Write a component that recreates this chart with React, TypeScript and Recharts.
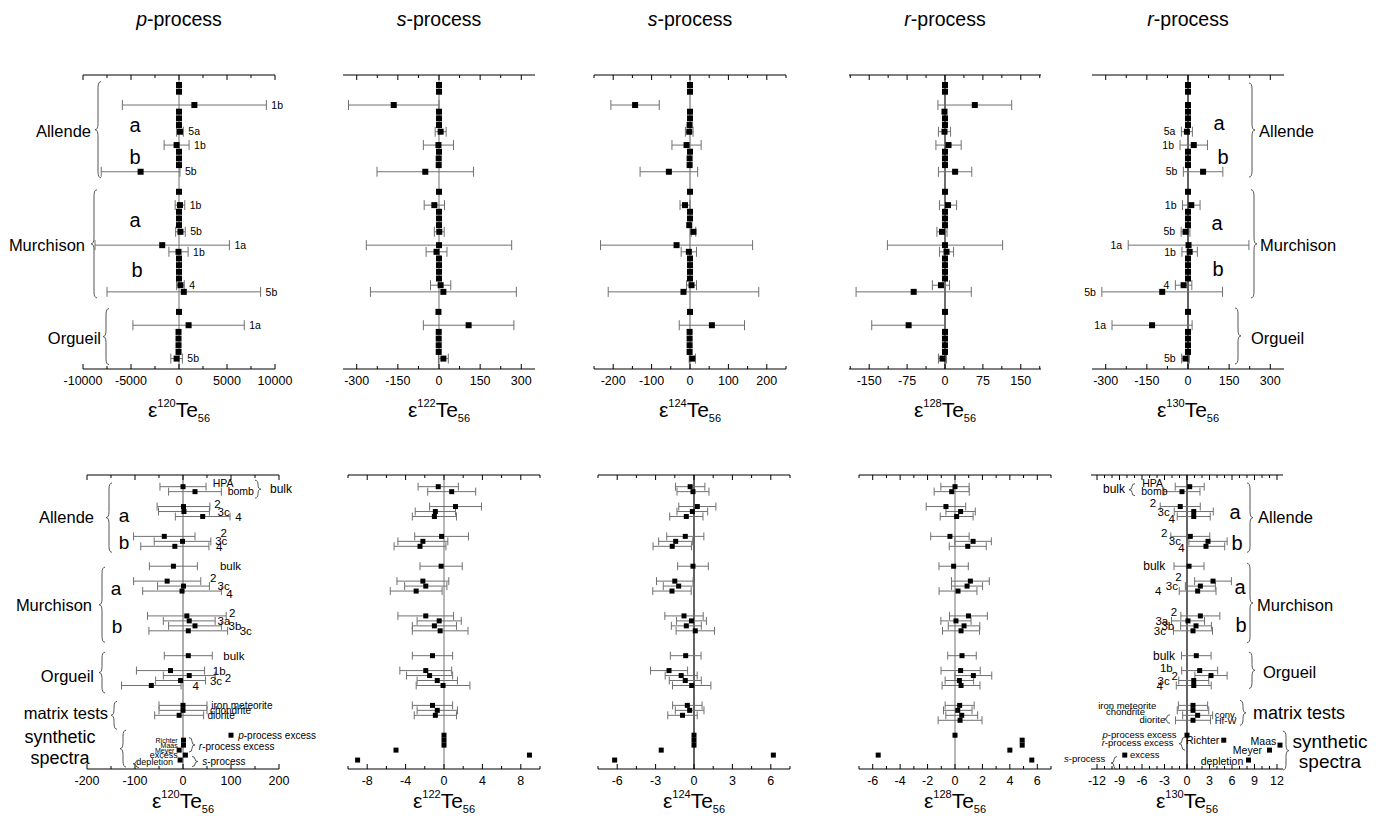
import React from 'react'
import { ScatterChart, Scatter, XAxis, YAxis, ErrorBar, ReferenceLine } from 'recharts'

const FONT = "Arial, 'Liberation Sans', Helvetica, sans-serif"

// row slots, counted from the top of each panel
const topRows = [0, 1, 3, 4, 5, 6, 7, 9, 10, 11, 12, 13, 16, 18, 19, 20, 21, 22, 24, 25, 26, 27, 28, 29, 30, 31, 34, 36, 37, 38, 39, 40, 41]
const bottomRows = [0, 1, 4, 5, 6, 10, 11, 12, 16, 19, 20, 21, 26, 27, 28, 29, 34, 37, 38, 39, 40, 44, 45, 46, 50, 51, 52, 53, 54, 55]
const bottomRowsHfW = [0, 1, 4, 5, 6, 10, 11, 12, 16, 19, 20, 21, 26, 27, 28, 29, 34, 37, 38, 39, 40, 44, 45, 46, 47, 50, 51, 52, 53, 54, 55]

// top row: leachate steps
const topTags = ['', '', '1b', '', '', '', '5a', '1b', '', '', '', '5b', '', '1b', '', '', '', '5b', '1a', '1b', '', '', '', '', '4', '5b', '', '1a', '', '', '', '', '5b']
const te120Top = [0, 0, 1600, 0, 0, 0, 100, -250, 0, 0, 0, -4000, 0, 100, 0, 0, 0, 150, -1750, -50, 0, 0, 0, 0, 150, 500, 0, 1000, -50, -50, -50, -50, -250]
const te120TopErr = [0, 0, 7500, 0, 0, 0, 350, 1300, 0, 0, 0, 4100, 0, 500, 0, 0, 0, 500, 7000, 1000, 0, 0, 0, 0, 400, 8000, 0, 5800, 0, 0, 0, 0, 600]
const te122Top = [0, 0, -165, 0, 0, 0, 6, -2, 0, -1, -1, -50, 0, -17, 0, 0, 0, 1, 0, -9, 0, 0, 0, 0, 6, 16, -2, 108, -1, -1, -1, -1, 16]
const te122TopErr = [0, 0, 165, 0, 0, 0, 20, 55, 0, 0, 0, 176, 0, 37, 0, 0, 0, 18, 265, 38, 0, 0, 0, 0, 37, 266, 0, 165, 0, 0, 0, 0, 18]
const te124Top = [0, 0, -143, 0, 0, -1, -2, -9, 0, -1, -1, -55, 0, -13, 0, 0, -2, 9, -35, -3, 0, 0, 0, 0, 4, -17, 0, 57, -1, -1, -1, -1, 6]
const te124TopErr = [0, 0, 63, 0, 0, 0, 10, 38, 0, 0, 0, 75, 0, 13, 0, 0, 0, 6, 198, 20, 0, 0, 0, 0, 13, 196, 0, 85, 0, 0, 0, 0, 8]
const te128Top = [0, 0, 59, -1, 0, 0, -1, 7, 0, 0, 0, 20, 0, 6, 0, 0, 0, -6, 0, 3, 0, 0, 0, 0, -8, -62, 0, -72, 0, 0, 0, 0, -5]
const te128TopErr = [0, 0, 73, 0, 0, 0, 12, 25, 0, 0, 0, 33, 0, 17, 0, 0, 0, 10, 114, 14, 0, 0, 0, 0, 17, 114, 0, 73, 0, 0, 0, 0, 8]
const te130Top = [0, 0, 0, 0, 0, 0, -4, 21, 0, 0, 0, 55, 0, 12, 0, 0, 0, -9, 2, 6, 0, 0, 0, 0, -16, -94, 0, -131, 0, 0, 0, 0, -9]
const te130TopErr = [0, 0, 0, 0, 0, 0, 20, 50, 0, 0, 0, 72, 0, 32, 0, 0, 0, 16, 220, 28, 0, 0, 0, 0, 30, 220, 0, 146, 0, 0, 0, 0, 14]

// bottom row: bulk, residues, matrix tests, synthetic spectra
const te120Bot = [0, 25, 1, 2, 41, -39, -1, -17, -20, -33, 1, -2, 8, 13, 25, 11, 11, -26, 13, -5, -66, 0, 0, -8, 100, 1, 1, -8, 5, -6]
const te120BotErr = [48, 55, 55, 53, 57, 64, 59, 71, 50, 70, 54, 82, 82, 54, 55, 82, 50, 71, 54, 52, 62, 50, 50, 51, 0, 0, 0, 0, 0, 0]
const te122Bot = [-0.6, 0.8, 1.2, -0.9, -1.0, -0.25, -2.2, -2.5, -0.3, -2.2, -1.9, -2.9, -1.9, -0.5, -1.0, -0.4, -1.2, -1.9, -1.5, -0.7, -0.1, -1.2, -0.7, -0.9, 0, 0, 0, -5.0, 8.9, -9.0]
const te122BotErr = [2.1, 2.5, 2.7, 2.1, 2.3, 2.8, 2.6, 2.7, 2.2, 2.7, 2.2, 2.7, 2.9, 2.3, 2.3, 2.9, 2.1, 2.7, 2.4, 2.1, 2.8, 2.1, 2.1, 2.2, 0, 0, 0, 0, 0, 0]
const te124Bot = [-0.3, -0.08, 0.26, -0.13, -0.6, -0.68, -1.43, -1.7, -0.08, -1.5, -1.2, -1.72, -0.78, -0.2, -0.6, 0.1, -0.65, -1.95, -1.0, -0.68, -0.18, -0.52, -0.34, -0.9, 0, 0, 0, -2.56, 6.2, -6.2]
const te124BotErr = [1.15, 1.25, 1.45, 1.2, 1.3, 1.45, 1.33, 1.5, 1.2, 1.43, 1.2, 1.5, 1.5, 1.17, 1.17, 1.5, 1.2, 1.45, 1.25, 1.25, 1.5, 1.15, 1.12, 1.15, 0, 0, 0, 0, 0, 0]
const te128Bot = [0, -0.24, -0.66, 0.41, 0.12, -0.37, 1.32, 0.93, -0.1, 1.12, 0.88, 0.22, 0.98, 0.07, 0.66, 0.44, 0.51, 0.41, 1.34, 0.32, 0.44, 0.34, 0.2, 0.49, 0.37, 0, 4.9, 4.9, 4.0, -5.6, 5.6]
const te128BotErr = [1.03, 1.28, 1.44, 1.07, 1.2, 1.4, 1.33, 1.35, 1.07, 1.38, 1.13, 1.38, 1.38, 1.1, 1.15, 1.35, 1.04, 1.43, 1.34, 1.04, 1.38, 1.06, 1.04, 1.16, 1.6, 0, 0, 0, 0, 0, 0]
const te130Bot = [0.36, -0.67, -0.9, 0.9, 0.9, 0.44, 2.8, 2.53, 0.27, 3.47, 1.78, 1.42, 1.78, 0.13, 1.2, 0.8, 1.24, 1.69, 3.2, 0.9, 0.9, 0.8, 0.8, 1.42, 0.8, 0, 4.9, 12.4, 11.0, -8.3, 8.2]
const te130BotErr = [1.93, 2.4, 2.67, 2.6, 2.2, 2.6, 2.55, 2.5, 2.0, 2.45, 2.0, 2.45, 2.6, 2.2, 2.05, 2.6, 1.97, 2.4, 2.15, 2.0, 2.33, 1.95, 2.1, 2.0, 2.33, 0, 0, 0, 0, 0, 0]

// axis ticks (all ticks / labelled ticks)
const ticks120Top = [-10000, -7500, -5000, -2500, 0, 2500, 5000, 7500, 10000]
const labels120Top = [-10000, -5000, 0, 5000, 10000]
const ticks300 = [-300, -225, -150, -75, 0, 75, 150, 225, 300]
const labels300 = [-300, -150, 0, 150, 300]
const ticks124Top = [-250, -200, -150, -100, -50, 0, 50, 100, 150, 200, 250]
const labels124Top = [-200, -100, 0, 100, 200]
const ticks128Top = [-187.5, -150, -112.5, -75, -37.5, 0, 37.5, 75, 112.5, 150, 187.5]
const labels128Top = [-150, -75, 0, 75, 150]
const ticks120Bot = [-200, -150, -100, -50, 0, 50, 100, 150, 200]
const labels120Bot = [-200, -100, 0, 100, 200]
const ticks122Bot = [-10, -8, -6, -4, -2, 0, 2, 4, 6, 8, 10]
const labels122Bot = [-8, -4, 0, 4, 8]
const ticks124Bot = [-7.5, -6, -4.5, -3, -1.5, 0, 1.5, 3, 4.5, 6, 7.5]
const labels124Bot = [-6, -3, 0, 3, 6]
const ticks128Bot = [-7, -6, -5, -4, -3, -2, -1, 0, 1, 2, 3, 4, 5, 6, 7]
const labels128Bot = [-6, -4, -2, 0, 2, 4, 6]
const ticks130Bot = [-12, -11, -10, -9, -8, -7, -6, -5, -4, -3, -2, -1, 0, 1, 2, 3, 4, 5, 6, 7, 8, 9, 10, 11, 12]
const labels130Bot = [-12, -9, -6, -3, 0, 3, 6, 9, 12]

const titles = ['p-process', 's-process', 's-process', 'r-process', 'r-process']
const masses = ['120', '122', '124', '128', '130']

type Note = { y: number; x: number; text: string; anchor?: 'start' | 'end' | 'middle'; dx?: number; dy?: number; size?: number }

const notes120Bot: Note[] = [
  { y: 0, x: 62, text: 'HPA', dy: -3, size: 10.5 },
  { y: 1, x: 93, text: 'bomb', size: 10.5 },
  { y: 4, x: 65, text: '2', dy: -3 },
  { y: 5, x: 72, text: '3c' },
  { y: 6, x: 109, text: '4' },
  { y: 10, x: 78, text: '2', dy: -3 },
  { y: 11, x: 67, text: '3c' },
  { y: 12, x: 69, text: '4', dy: 1 },
  { y: 16, x: 77, text: 'bulk' },
  { y: 19, x: 56, text: '2', dy: -3 },
  { y: 20, x: 72, text: '3c' },
  { y: 21, x: 90, text: '4', dy: 3 },
  { y: 26, x: 96, text: '2', dy: -3 },
  { y: 27, x: 72, text: '3a' },
  { y: 28, x: 95, text: '3b' },
  { y: 29, x: 118, text: '3c' },
  { y: 34, x: 84, text: 'bulk' },
  { y: 37, x: 62, text: '1b' },
  { y: 38, x: 87, text: '2', dy: 2 },
  { y: 39, x: 56, text: '3c' },
  { y: 40, x: 20, text: '4' },
  { y: 44, x: 59, text: 'iron meteorite', size: 10 },
  { y: 45, x: 56, text: 'chondrite', size: 10 },
  { y: 46, x: 51, text: 'diorite', size: 10 },
  { y: 50, x: 115, text: 'p-process excess', size: 10 },
  { y: 51, x: -11, text: 'Richter', anchor: 'end', size: 7 },
  { y: 52, x: -11, text: 'Maas', anchor: 'end', size: 7 },
  { y: 53, x: -18, text: 'Meyer', anchor: 'end', size: 7 },
  { y: 54, x: -11, text: 'excess', anchor: 'end', size: 9 },
  { y: 55.3, x: -21, text: 'depletion', anchor: 'end', size: 9 },
  { y: 52.3, x: 33, text: 'r-process excess', size: 10 },
  { y: 55.2, x: 40, text: 's-process', size: 10 },
]

const notes130Bot: Note[] = [
  { y: 0, x: -3.2, text: 'HPA', anchor: 'end', dy: -3, size: 10.5 },
  { y: 1, x: -2.6, text: 'bomb', anchor: 'end', size: 10.5 },
  { y: 4, x: -4.1, text: '2', anchor: 'end', dy: -4 },
  { y: 5, x: -2.3, text: '3c', anchor: 'end' },
  { y: 6, x: -1.6, text: '4', anchor: 'end', dy: 2 },
  { y: 10, x: -2.6, text: '2', anchor: 'end', dy: -3 },
  { y: 11, x: -0.8, text: '3c', anchor: 'end' },
  { y: 12, x: -0.3, text: '4', anchor: 'end', dy: 2 },
  { y: 16, x: -2.9, text: 'bulk', anchor: 'end', size: 12 },
  { y: 19, x: -0.7, text: '2', anchor: 'end', dy: -4 },
  { y: 20, x: -1.2, text: '3c', anchor: 'end' },
  { y: 21, x: -3.4, text: '4', anchor: 'end' },
  { y: 26, x: -1.3, text: '2', anchor: 'end', dy: -4 },
  { y: 27, x: -2.5, text: '3a', anchor: 'end' },
  { y: 28, x: -1.7, text: '3b', anchor: 'end' },
  { y: 29, x: -2.8, text: '3c', anchor: 'end' },
  { y: 34, x: -1.6, text: 'bulk', anchor: 'end', size: 12 },
  { y: 37, x: -1.9, text: '1b', anchor: 'end', dy: -3 },
  { y: 38, x: -1.2, text: '2', anchor: 'end' },
  { y: 39, x: -2.3, text: '3c', anchor: 'end' },
  { y: 40, x: -3.2, text: '4', anchor: 'end' },
  { y: 44, x: -4.1, text: 'iron meteorite', anchor: 'end', size: 9.5 },
  { y: 45.2, x: -5.6, text: 'chondrite', anchor: 'end', size: 9.5 },
  { y: 46.9, x: -2.9, text: 'diorite', anchor: 'end', size: 9.5 },
  { y: 45.8, x: 3.7, text: 'conv.', size: 9.5 },
  { y: 47.1, x: 3.7, text: 'Hf-W', size: 9.5 },
  { y: 49.8, x: -1.4, text: 'p-process excess', anchor: 'end', size: 9.5 },
  { y: 51.6, x: -1.8, text: 'r-process excess', anchor: 'end', size: 9.5 },
  { y: 51, x: 4.3, text: 'Richter', anchor: 'end', size: 10.5 },
  { y: 52, x: 11.9, text: 'Maas', anchor: 'end', dy: -4, size: 10.5 },
  { y: 53, x: 10.0, text: 'Meyer', anchor: 'end', size: 10.5 },
  { y: 54, x: -7.6, text: 'excess', size: 9.5 },
  { y: 54.8, x: -10.9, text: 's-process', anchor: 'end', size: 9.5 },
  { y: 55.2, x: 7.5, text: 'depletion', anchor: 'end', size: 10.5 },
]

type Geom = { top: number; h: number; dom: [number, number] }
const TOP: Geom = { top: 75, h: 294, dom: [-1.5, 42.56] }
const BOT: Geom = { top: 475, h: 294, dom: [-2.35, 56.8] }
const PW = 192
const topLefts = [83, 343, 594, 849, 1092]
const botLefts = [87, 348, 598, 859, 1091]

const rowY = (g: Geom, r: number) => g.top + ((r - g.dom[0]) / (g.dom[1] - g.dom[0])) * g.h

type Pt = { x: number; y: number; err: number }
const pts = (rows: number[], vals: number[], errs: number[]): Pt[] =>
  rows.map((r, i) => ({ y: r, x: vals[i], err: errs[i] }))

const tagNotes = (vals: number[], errs: number[], side: 'right' | 'left'): Note[] =>
  topRows
    .map((r, i) =>
      side === 'right'
        ? { y: r, x: vals[i] + errs[i], text: errs[i] > 0 ? topTags[i] : '', dx: 5, size: 10.5 }
        : { y: r, x: vals[i] - errs[i], text: errs[i] > 0 ? topTags[i] : '', dx: -6, anchor: 'end' as const, size: 10.5 })
    .filter((n) => n.text)

type PanelSpec = {
  left: number; geom: Geom; domain: [number, number]; ticks: number[]; labels: number[]
  data: Pt[]; notes: Note[]; zero: string; sq: number; cap: number
}

const topPanels: PanelSpec[] = [
  { left: topLefts[0], geom: TOP, domain: [-10000, 10000], ticks: ticks120Top, labels: labels120Top, data: pts(topRows, te120Top, te120TopErr), notes: tagNotes(te120Top, te120TopErr, 'right'), zero: '#9a9a9a', sq: 6, cap: 5 },
  { left: topLefts[1], geom: TOP, domain: [-350, 350], ticks: ticks300, labels: labels300, data: pts(topRows, te122Top, te122TopErr), notes: [], zero: '#9a9a9a', sq: 6, cap: 5 },
  { left: topLefts[2], geom: TOP, domain: [-250, 250], ticks: ticks124Top, labels: labels124Top, data: pts(topRows, te124Top, te124TopErr), notes: [], zero: '#8a8a8a', sq: 6, cap: 5 },
  { left: topLefts[3], geom: TOP, domain: [-190, 190], ticks: ticks128Top, labels: labels128Top, data: pts(topRows, te128Top, te128TopErr), notes: [], zero: '#333', sq: 6, cap: 5 },
  { left: topLefts[4], geom: TOP, domain: [-350, 350], ticks: ticks300, labels: labels300, data: pts(topRows, te130Top, te130TopErr), notes: tagNotes(te130Top, te130TopErr, 'left'), zero: '#222', sq: 6, cap: 5 },
]

const botPanels: PanelSpec[] = [
  { left: botLefts[0], geom: BOT, domain: [-200, 200], ticks: ticks120Bot, labels: labels120Bot, data: pts(bottomRows, te120Bot, te120BotErr), notes: notes120Bot, zero: '#8a8a8a', sq: 5, cap: 4 },
  { left: botLefts[1], geom: BOT, domain: [-10, 10], ticks: ticks122Bot, labels: labels122Bot, data: pts(bottomRows, te122Bot, te122BotErr), notes: [], zero: '#9a9a9a', sq: 5, cap: 4 },
  { left: botLefts[2], geom: BOT, domain: [-7.5, 7.5], ticks: ticks124Bot, labels: labels124Bot, data: pts(bottomRows, te124Bot, te124BotErr), notes: [], zero: '#222', sq: 5, cap: 4 },
  { left: botLefts[3], geom: BOT, domain: [-7, 7], ticks: ticks128Bot, labels: labels128Bot, data: pts(bottomRowsHfW, te128Bot, te128BotErr), notes: [], zero: '#9a9a9a', sq: 5, cap: 4 },
  { left: botLefts[4], geom: BOT, domain: [-12.8, 12.8], ticks: ticks130Bot, labels: labels130Bot, data: pts(bottomRowsHfW, te130Bot, te130BotErr), notes: notes130Bot, zero: '#222', sq: 5, cap: 4 },
]

// braces and group names around the panels (pixel x, row y)
type Brace = { g: Geom; x: number; r1: number; r2: number; dir: 1 | -1 }
const braces: Brace[] = [
  { g: TOP, x: 98, r1: -0.5, r2: 13.9, dir: -1 },
  { g: TOP, x: 94, r1: 15.7, r2: 31.9, dir: -1 },
  { g: TOP, x: 106, r1: 33.5, r2: 41.9, dir: -1 },
  { g: TOP, x: 1252, r1: -0.3, r2: 13.8, dir: 1 },
  { g: TOP, x: 1254, r1: 15.7, r2: 31.9, dir: 1 },
  { g: TOP, x: 1238, r1: 33.4, r2: 41.8, dir: 1 },
  { g: BOT, x: 109, r1: -0.75, r2: 13.2, dir: -1 },
  { g: BOT, x: 102, r1: 16.2, r2: 31.3, dir: -1 },
  { g: BOT, x: 102, r1: 33.3, r2: 41.5, dir: -1 },
  { g: BOT, x: 114, r1: 43.2, r2: 48.8, dir: -1 },
  { g: BOT, x: 123, r1: 49, r2: 56.4, dir: -1 },
  { g: BOT, x: 258, r1: -1.3, r2: 2.3, dir: 1 },
  { g: BOT, x: 192, r1: 50.5, r2: 53.4, dir: 1 },
  { g: BOT, x: 195, r1: 54.3, r2: 56.3, dir: 1 },
  { g: BOT, x: 136, r1: 55, r2: 56.5, dir: -1 },
  { g: BOT, x: 1132, r1: -0.6, r2: 1.8, dir: -1 },
  { g: BOT, x: 1250, r1: -0.75, r2: 13.2, dir: 1 },
  { g: BOT, x: 1250, r1: 15.4, r2: 31.4, dir: 1 },
  { g: BOT, x: 1252, r1: 33.3, r2: 40.6, dir: 1 },
  { g: BOT, x: 1243, r1: 43, r2: 48, dir: 1 },
  { g: BOT, x: 1286, r1: 49.2, r2: 57, dir: 1 },
  { g: BOT, x: 1167, r1: 45.9, r2: 47.6, dir: -1 },
  { g: BOT, x: 1182, r1: 50.4, r2: 53, dir: -1 },
  { g: BOT, x: 1114, r1: 54.3, r2: 56.9, dir: -1 },
]

type Tag = { g: Geom; x: number; r: number; text: string; anchor: 'start' | 'end' | 'middle'; size: number }
const groupTags: Tag[] = [
  { g: TOP, x: 91, r: 6.9, text: 'Allende', anchor: 'end', size: 16.5 },
  { g: TOP, x: 85, r: 24, text: 'Murchison', anchor: 'end', size: 16.5 },
  { g: TOP, x: 101, r: 37.9, text: 'Orgueil', anchor: 'end', size: 16.5 },
  { g: TOP, x: 135, r: 6.0, text: 'a', anchor: 'middle', size: 20 },
  { g: TOP, x: 135, r: 10.8, text: 'b', anchor: 'middle', size: 20 },
  { g: TOP, x: 135, r: 20.2, text: 'a', anchor: 'middle', size: 20 },
  { g: TOP, x: 137, r: 27.7, text: 'b', anchor: 'middle', size: 20 },
  { g: TOP, x: 1219, r: 5.7, text: 'a', anchor: 'middle', size: 20 },
  { g: TOP, x: 1223, r: 10.8, text: 'b', anchor: 'middle', size: 20 },
  { g: TOP, x: 1217, r: 20.7, text: 'a', anchor: 'middle', size: 20 },
  { g: TOP, x: 1218, r: 27.5, text: 'b', anchor: 'middle', size: 20 },
  { g: TOP, x: 1259, r: 6.9, text: 'Allende', anchor: 'start', size: 16.5 },
  { g: TOP, x: 1260, r: 24, text: 'Murchison', anchor: 'start', size: 16.5 },
  { g: TOP, x: 1251, r: 37.9, text: 'Orgueil', anchor: 'start', size: 16.5 },
  { g: BOT, x: 94, r: 6.1, text: 'Allende', anchor: 'end', size: 16.5 },
  { g: BOT, x: 92, r: 23.8, text: 'Murchison', anchor: 'end', size: 16.5 },
  { g: BOT, x: 94, r: 38.2, text: 'Orgueil', anchor: 'end', size: 16.5 },
  { g: BOT, x: 108, r: 45.5, text: 'matrix tests', anchor: 'end', size: 16.5 },
  { g: BOT, x: 60, r: 50.4, text: 'synthetic', anchor: 'middle', size: 18 },
  { g: BOT, x: 60, r: 54.6, text: 'spectra', anchor: 'middle', size: 18 },
  { g: BOT, x: 124, r: 5.7, text: 'a', anchor: 'middle', size: 19 },
  { g: BOT, x: 124, r: 11.3, text: 'b', anchor: 'middle', size: 19 },
  { g: BOT, x: 116, r: 20.4, text: 'a', anchor: 'middle', size: 19 },
  { g: BOT, x: 117, r: 28.2, text: 'b', anchor: 'middle', size: 19 },
  { g: BOT, x: 270, r: 0.5, text: 'bulk', anchor: 'start', size: 12 },
  { g: BOT, x: 1103, r: 0.5, text: 'bulk', anchor: 'start', size: 12 },
  { g: BOT, x: 1235, r: 5.1, text: 'a', anchor: 'middle', size: 20 },
  { g: BOT, x: 1237, r: 11.3, text: 'b', anchor: 'middle', size: 20 },
  { g: BOT, x: 1240, r: 20.2, text: 'a', anchor: 'middle', size: 20 },
  { g: BOT, x: 1241, r: 27.8, text: 'b', anchor: 'middle', size: 20 },
  { g: BOT, x: 1258, r: 6.1, text: 'Allende', anchor: 'start', size: 16.5 },
  { g: BOT, x: 1257, r: 23.8, text: 'Murchison', anchor: 'start', size: 16.5 },
  { g: BOT, x: 1263, r: 37.3, text: 'Orgueil', anchor: 'start', size: 16.5 },
  { g: BOT, x: 1253, r: 45.5, text: 'matrix tests', anchor: 'start', size: 18 },
  { g: BOT, x: 1330, r: 51.3, text: 'synthetic', anchor: 'middle', size: 19 },
  { g: BOT, x: 1330, r: 55.2, text: 'spectra', anchor: 'middle', size: 19 },
]

const bracePath = (x: number, y1: number, y2: number, dir: number) => {
  const w = 6
  const r = Math.min(6, (y2 - y1) / 4)
  const ym = (y1 + y2) / 2
  const e = x - (dir * w) / 2
  const t = x + (dir * w) / 2
  return `M${e},${y1} Q${x},${y1} ${x},${y1 + r} L${x},${ym - r} Q${x},${ym} ${t},${ym} Q${x},${ym} ${x},${ym + r} L${x},${y2 - r} Q${x},${y2} ${e},${y2}`
}

// italic leading letter for "p-process" style words
const Word = ({ text }: { text: string }) =>
  /^[prs]-process/.test(text) ? (
    <>
      <tspan fontStyle="italic">{text[0]}</tspan>
      {text.slice(1)}
    </>
  ) : (
    <>{text}</>
  )

const makeTick = (labels: number[], side: 'top' | 'bottom') => (props: any) => {
  const { x, y, payload } = props
  const major = labels.includes(payload.value)
  const len = major ? 5 : 3
  const dir = side === 'bottom' ? -1 : 1
  return (
    <g>
      <line x1={x} x2={x} y1={y} y2={y + dir * len} stroke="#000" strokeWidth={1} />
      {side === 'bottom' && major && (
        <text x={x} y={y + 16} textAnchor="middle" fontSize={12.5} fontFamily={FONT} fill="#000">
          {String(payload.value)}
        </text>
      )}
    </g>
  )
}

const NoteMark = (props: any) => {
  const { cx, cy, payload } = props
  const n = payload as Note
  return (
    <text x={cx + (n.dx ?? 0)} y={cy + (n.dy ?? 0)} dy="0.35em" textAnchor={n.anchor ?? 'start'} fontSize={n.size ?? 11.5} fontFamily={FONT} fill="#000">
      <Word text={n.text} />
    </text>
  )
}

const Blank = () => <g />

function Panel({ s }: { s: PanelSpec }) {
  const ML = 75
  const MR = 75
  const MT = 19
  const MB = 29
  const half = s.sq / 2
  return (
    <div style={{ position: 'absolute', left: s.left - ML, top: s.geom.top - MT - 1 }}>
      <ScatterChart width={ML + PW + MR} height={MT + 1 + s.geom.h + 1 + MB} margin={{ top: MT, right: MR, bottom: MB, left: ML }}>
        <XAxis xAxisId="b" orientation="bottom" type="number" dataKey="x" domain={s.domain} ticks={s.ticks} interval={0}
          height={1} tickSize={0} tickMargin={0} tickLine={false} tick={makeTick(s.labels, 'bottom')} axisLine={{ stroke: '#000' }} />
        <XAxis xAxisId="t" orientation="top" type="number" dataKey="x" domain={s.domain} ticks={s.ticks} interval={0}
          height={1} tickSize={0} tickMargin={0} tickLine={false} tick={makeTick(s.labels, 'top')} axisLine={{ stroke: '#000' }} />
        <YAxis yAxisId="y" type="number" dataKey="y" domain={s.geom.dom} reversed hide />
        <ReferenceLine xAxisId="b" yAxisId="y" x={0} stroke={s.zero} strokeWidth={1.4} />
        <Scatter xAxisId="t" yAxisId="y" data={s.data} shape={Blank} isAnimationActive={false} />
        <Scatter xAxisId="b" yAxisId="y" data={s.data} isAnimationActive={false}
          shape={(p: any) => <rect x={p.cx - half} y={p.cy - half} width={s.sq} height={s.sq} fill="#000" />}>
          <ErrorBar dataKey="err" direction="x" width={s.cap} stroke="#707070" strokeWidth={1} />
        </Scatter>
        {s.notes.length > 0 && (
          <Scatter xAxisId="b" yAxisId="y" data={s.notes} shape={NoteMark} isAnimationActive={false} />
        )}
      </ScatterChart>
    </div>
  )
}

function Overlay() {
  return (
    <svg width={1383} height={816} style={{ position: 'absolute', left: 0, top: 0, pointerEvents: 'none' }} fontFamily={FONT}>
      {titles.map((t, i) => (
        <text key={'t' + i} x={topLefts[i] + PW / 2} y={26} textAnchor="middle" fontSize={19.5} fill="#000">
          <Word text={t} />
        </text>
      ))}
      {masses.map((m, i) =>
        [
          { cx: topLefts[i] + PW / 2, base: 417 },
          { cx: botLefts[i] + PW / 2, base: 808 },
        ].map((a, j) => (
          <text key={'a' + i + j} x={a.cx} y={a.base} textAnchor="middle" fontSize={21} fill="#000">
            ε<tspan fontSize={11} dy={-10}>{m}</tspan>
            <tspan dy={10}>Te</tspan>
            <tspan fontSize={11} dy={5}>56</tspan>
          </text>
        ))
      )}
      {braces.map((b, i) => (
        <path key={'b' + i} d={bracePath(b.x, rowY(b.g, b.r1), rowY(b.g, b.r2), b.dir)} fill="none" stroke="#555" strokeWidth={1} />
      ))}
      {groupTags.map((t, i) => (
        <text key={'g' + i} x={t.x} y={rowY(t.g, t.r)} dy="0.35em" textAnchor={t.anchor} fontSize={t.size} fill="#000">
          {t.text}
        </text>
      ))}
    </svg>
  )
}

export default function App() {
  return (
    <div style={{ position: 'absolute', left: 0, top: 0, width: 1383, height: 816, background: '#fff', fontFamily: FONT }}>
      {topPanels.map((s, i) => (
        <Panel key={'top' + i} s={s} />
      ))}
      {botPanels.map((s, i) => (
        <Panel key={'bot' + i} s={s} />
      ))}
      <Overlay />
    </div>
  )
}
